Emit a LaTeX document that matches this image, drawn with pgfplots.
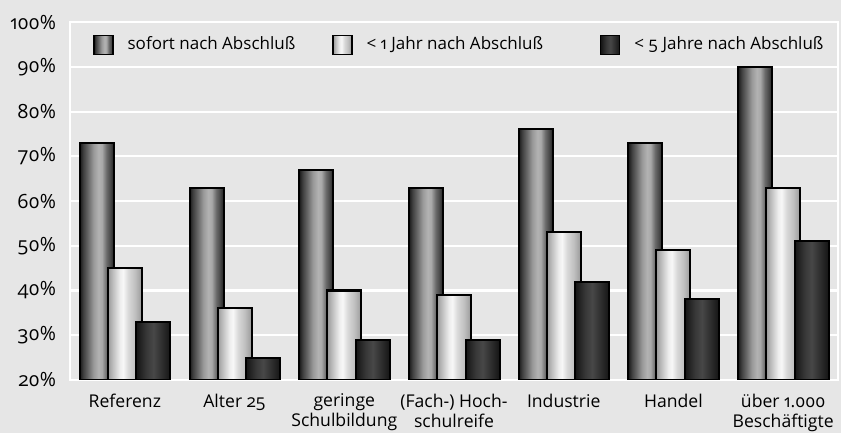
\documentclass[border=0pt]{standalone}
\usepackage{fontspec}
\setmainfont{Open Sans}[Numbers=OldStyle]
\usepackage{pgfplots}
\usepackage{pgfplotstable}
\pgfplotsset{compat=1.18}
\definecolor{bg}{HTML}{E6E6E6}
\pgfdeclarehorizontalshading{cylA}{100bp}{rgb(0bp)=(0.1,0.1,0.1); rgb(25bp)=(0.1,0.1,0.1); rgb(30bp)=(0.25,0.25,0.25); rgb(37.5bp)=(0.42,0.42,0.42); rgb(45bp)=(0.6,0.6,0.6); rgb(52.5bp)=(0.7,0.7,0.7); rgb(57.5bp)=(0.66,0.66,0.66); rgb(64bp)=(0.42,0.42,0.42); rgb(70bp)=(0.28,0.28,0.28); rgb(75bp)=(0.13,0.13,0.13); rgb(100bp)=(0.13,0.13,0.13)}
\pgfdeclarehorizontalshading{cylB}{100bp}{rgb(0bp)=(0.6,0.6,0.6); rgb(25bp)=(0.6,0.6,0.6); rgb(32.5bp)=(0.75,0.75,0.75); rgb(42.5bp)=(0.93,0.93,0.93); rgb(47.5bp)=(0.97,0.97,0.97); rgb(55bp)=(0.85,0.85,0.85); rgb(65bp)=(0.75,0.75,0.75); rgb(75bp)=(0.6,0.6,0.6); rgb(100bp)=(0.6,0.6,0.6)}
\pgfdeclarehorizontalshading{cylC}{100bp}{rgb(0bp)=(0.08,0.08,0.08); rgb(25bp)=(0.08,0.08,0.08); rgb(40bp)=(0.22,0.22,0.22); rgb(50bp)=(0.28,0.28,0.28); rgb(60bp)=(0.2,0.2,0.2); rgb(75bp)=(0.08,0.08,0.08); rgb(100bp)=(0.08,0.08,0.08)}
\tikzset{
  sA/.style={shading=cylA, draw=black, line width=1pt},
  sB/.style={shading=cylB, draw=black, line width=1pt},
  sC/.style={shading=cylC, draw=black, line width=1pt},
}
\pgfplotstableread{
x a b c
0 73 45 33
1 63 36 25
2 67 40 29
3 63 39 29
4 76 53 42
5 73 49 38
6 90 63 51
}\data
\begin{document}
\begin{tikzpicture}[font=\fontsize{8.8}{10}\selectfont]
\useasboundingbox[fill=bg] (-35pt,-26.5pt) rectangle (385.5pt,190pt);
\begin{axis}[
  at={(0,0)}, anchor=south west,
  scale only axis, width=384pt, height=179pt,
  xmin=-0.5, xmax=6.5, ymin=20, ymax=100,
  ybar, bar width=0.31,
  xtick={0,1,2,3,4,5,6},
  xticklabels={Referenz, Alter 25, {geringe\\Schulbildung}, {(Fach-) Hoch-\\schulreife}, Industrie, Handel, {über 1.000\\Beschäftigte}},
  x tick label style={align=center, anchor=north, yshift=-3.5pt},
  ytick={20,30,40,50,60,70,80,90,100},
  yticklabels={20\%,30\%,40\%,50\%,60\%,70\%,80\%,90\%,100\%},
  y tick label style={anchor=east, xshift=-3.5pt, font=\fontsize{9.8}{11}\selectfont},
  major tick length=0pt,
  ymajorgrids, grid style={white, line width=1pt},
  axis line style={white, line width=1pt},
  axis background/.style={fill=bg},
  legend columns=3,
  legend style={at={(0.03,0.936)}, anchor=west, draw=none, fill=none, inner sep=0pt,
    font=\fontsize{8.5}{10}\selectfont,
    /tikz/every odd column/.append style={column sep=5pt},
    /tikz/column 2/.append style={column sep=16.5pt},
    /tikz/column 4/.append style={column sep=26.5pt}},
  legend image code/.code={\draw[#1, line width=0.6pt] (0pt,-4.75pt) rectangle (9.5pt,4.75pt);},
]
\pgfplotsinvokeforeach{0,...,6}{
  \addplot[sA, bar shift=-0.255, restrict x to domain=#1:#1, forget plot] table[x=x, y=a] {\data};
  \addplot[sB, bar shift=0, restrict x to domain=#1:#1, forget plot] table[x=x, y=b] {\data};
  \addplot[sC, bar shift=0.26, restrict x to domain=#1:#1, forget plot] table[x=x, y=c] {\data};
}
\addlegendimage{sA}\addlegendentry{sofort nach Abschluß}
\addlegendimage{sB}\addlegendentry{< 1 Jahr nach Abschluß}
\addlegendimage{sC}\addlegendentry{< 5 Jahre nach Abschluß}
\end{axis}
\end{tikzpicture}
\end{document}
